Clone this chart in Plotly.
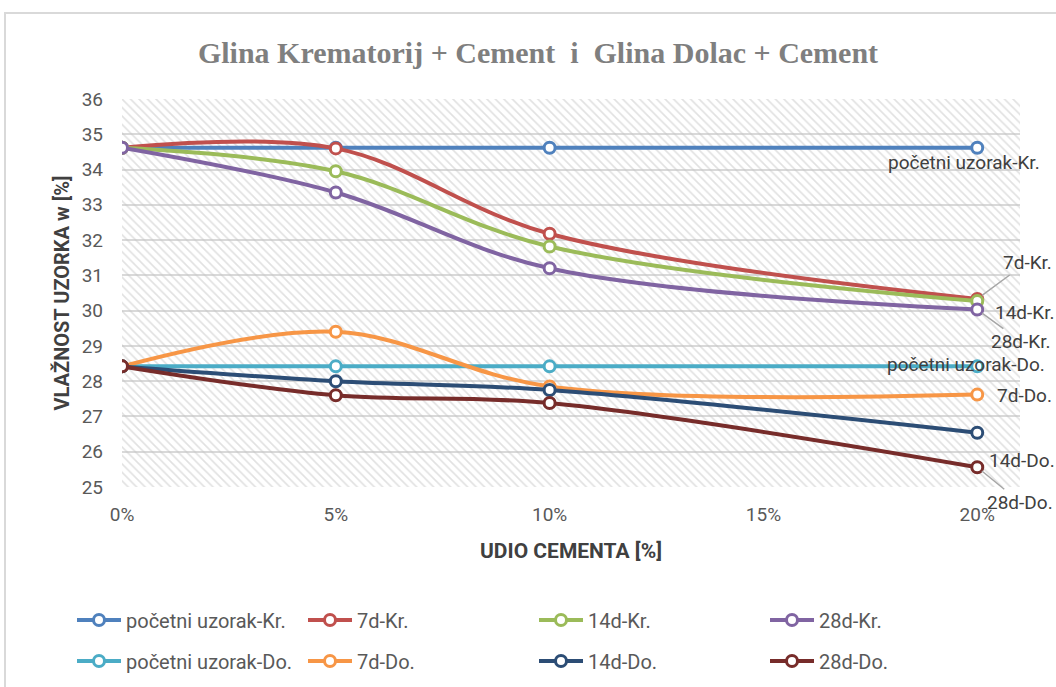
import plotly.graph_objects as go

# Cement share (%) and sample moisture w (%) for each curing age
cement_pct = [0, 5, 10, 20]
series_names = ["početni uzorak-Kr.", "7d-Kr.", "14d-Kr.", "28d-Kr.",
                "početni uzorak-Do.", "7d-Do.", "14d-Do.", "28d-Do."]
pocetni_kr = [34.62, 34.62, 34.62, 34.62]
d7_kr = [34.62, 34.60, 32.18, 30.33]
d14_kr = [34.62, 33.95, 31.82, 30.27]
d28_kr = [34.62, 33.35, 31.20, 30.03]
pocetni_do = [28.42, 28.42, 28.42, 28.42]
d7_do = [28.42, 29.40, 27.85, 27.62]
d14_do = [28.42, 28.00, 27.75, 26.54]
d28_do = [28.42, 27.60, 27.38, 25.56]

x_ticks = [0, 5, 10, 15, 20]
x_tick_labels = ["0%", "5%", "10%", "15%", "20%"]
y_ticks = list(range(25, 37))

values = [pocetni_kr, d7_kr, d14_kr, d28_kr, pocetni_do, d7_do, d14_do, d28_do]
colors = ["#4F81BD", "#C0504D", "#9BBB59", "#8064A2",
          "#4BACC6", "#F79646", "#2C4D75", "#772C2A"]

X_MAX = 21
Y_MIN, Y_MAX = 25, 36
W, H = 1056, 687
M = dict(l=122, r=36, t=99, b=200, autoexpand=False)
pw = W - M["l"] - M["r"]
ph = H - M["t"] - M["b"]


def px_to_paper_x(px):
    return (px - M["l"]) / pw


def px_to_paper_y(py):
    return (H - M["b"] - py) / ph


FONT = "Roboto, Arial, sans-serif"
TXT = "#595959"
DARK = "#404040"

fig = go.Figure()

# hatched plot-area background
fig.add_trace(go.Scatter(
    x=[0, X_MAX, X_MAX, 0, 0], y=[Y_MIN, Y_MIN, Y_MAX, Y_MAX, Y_MIN],
    mode="lines", line=dict(width=0), fill="toself",
    fillcolor="rgba(0,0,0,0)",
    fillpattern=dict(shape="\\", fgcolor="#c4c4c4", bgcolor="rgba(0,0,0,0)",
                     size=6, solidity=0.28),
    hoverinfo="skip", showlegend=False))

for i, (name, vals, col) in enumerate(zip(series_names, values, colors)):
    fig.add_trace(go.Scatter(
        x=cement_pct, y=vals, name=name,
        mode="lines+markers",
        line=dict(color=col, width=4, shape="spline", smoothing=1),
        marker=dict(size=11, color="white", line=dict(color=col, width=3)),
        legend="legend" if i < 4 else "legend2"))

# series-name labels at the last point
label_pos = {
    "početni uzorak-Kr.": dict(xanchor="left", xshift=-91, yshift=-15),
    "7d-Kr.": dict(arrow=(50, -37)),
    "14d-Kr.": dict(xanchor="left", xshift=16, yshift=-11),
    "28d-Kr.": dict(arrow=(44, 32)),
    "početni uzorak-Do.": dict(xanchor="left", xshift=-92, yshift=2),
    "7d-Do.": dict(xanchor="left", xshift=18, yshift=-1),
    "14d-Do.": dict(xanchor="left", xshift=10, yshift=-28),
    "28d-Do.": dict(arrow=(43, 35)),
}
for name, vals in zip(series_names, values):
    p = label_pos[name]
    common = dict(x=cement_pct[-1], y=vals[-1], xref="x", yref="y", text=name,
                  font=dict(family=FONT, size=19, color=DARK))
    if "arrow" in p:
        ax, ay = p["arrow"]
        fig.add_annotation(**common, showarrow=True, ax=ax, ay=ay,
                           arrowhead=0, arrowwidth=1.5, arrowcolor="#a6a6a6",
                           standoff=6)
    else:
        fig.add_annotation(**common, showarrow=False, xanchor=p["xanchor"],
                           yanchor="middle", xshift=p["xshift"], yshift=p["yshift"])

# outer chart border
fig.add_shape(type="rect", xref="paper", yref="paper",
              x0=px_to_paper_x(5), x1=px_to_paper_x(W + 20),
              y0=px_to_paper_y(H + 20), y1=px_to_paper_y(13),
              line=dict(color="#d9d9d9", width=2), layer="below")

legend_common = dict(orientation="h", xref="paper", yref="paper",
                     xanchor="left", yanchor="middle", entrywidth=172,
                     itemwidth=44,
                     font=dict(family=FONT, size=20, color=TXT),
                     bgcolor="rgba(0,0,0,0)")

fig.update_layout(
    width=W, height=H, margin=M,
    paper_bgcolor="white", plot_bgcolor="white",
    title=dict(text="<b>Glina Krematorij + Cement  i  Glina Dolac + Cement</b>",
               x=538 / W, xanchor="center", y=1 - 52 / H, yanchor="middle",
               font=dict(family="Liberation Serif, serif", size=30, color="#7f7f7f")),
    xaxis=dict(range=[0, X_MAX], tickvals=x_ticks, ticktext=x_tick_labels,
               showgrid=False, zeroline=False, showline=False,
               ticklabelstandoff=14,
               tickfont=dict(family=FONT, size=19, color=TXT),
               title=dict(text="<b>UDIO CEMENTA [%]</b>", standoff=18,
                          font=dict(family=FONT, size=21, color=DARK))),
    yaxis=dict(range=[Y_MIN, Y_MAX], tickvals=y_ticks,
               showgrid=True, gridcolor="#d9d9d9", gridwidth=2,
               zeroline=False, showline=False, ticklabelstandoff=18,
               tickfont=dict(family=FONT, size=19, color=TXT),
               title=dict(text="<b>VLAŽNOST UZORKA w [%]</b>", standoff=6,
                          font=dict(family=FONT, size=20, color=DARK))),
    legend=dict(legend_common, x=px_to_paper_x(72), y=px_to_paper_y(620)),
    legend2=dict(legend_common, x=px_to_paper_x(72), y=px_to_paper_y(661)),
    showlegend=True,
)

fig.write_html("out.html")
